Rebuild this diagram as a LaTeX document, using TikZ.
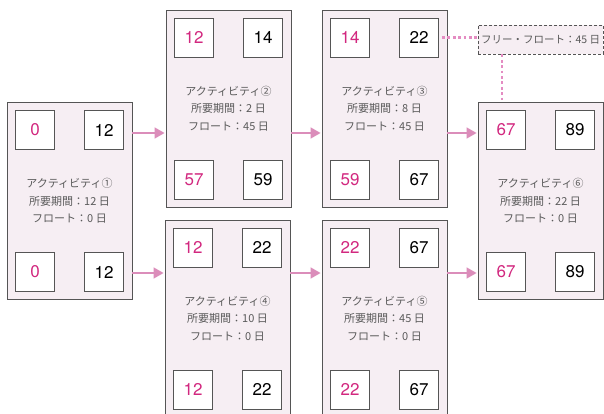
\documentclass[tikz,border=0pt]{standalone}
\usepackage{fontspec}
\newfontfamily\jp{Noto Sans CJK JP}
\newfontfamily\numf{TeX Gyre Heros}
\usetikzlibrary{arrows.meta,calc}
\definecolor{boxfill}{HTML}{F6EEF3}
\definecolor{boxdraw}{HTML}{555555}
\definecolor{mag}{HTML}{D2287F}
\definecolor{arrpink}{HTML}{DB8DBA}
\definecolor{dotpink}{HTML}{E48CC2}
\definecolor{txtgray}{HTML}{5A5A5A}
\tikzset{
  act/.style={draw=boxdraw, fill=boxfill, line width=0.9pt, minimum width=125pt, minimum height=197pt, inner sep=0pt},
  num/.style={draw=boxdraw, fill=white, line width=0.9pt, minimum size=39pt, inner sep=0pt, font=\numf\fontsize{17}{20}\selectfont},
  es/.style={num, text=mag},
  ef/.style={num, text=black},
  lbl/.style={align=center, text=txtgray, font=\jp\fontsize{11}{17.5}\selectfont},
  arr/.style={draw=arrpink, line width=1.6pt, -{Triangle[length=10pt,width=11pt]}, shorten >=1pt},
  dotln/.style={draw=dotpink, line width=2.8pt, dash pattern=on 2.8pt off 2.6pt},
  freebox/.style={draw=boxdraw, fill=boxfill, line width=0.9pt, dash pattern=on 3pt off 2pt, minimum width=125pt, minimum height=29pt, inner sep=0pt, text=txtgray, font=\jp\fontsize{10.5}{12}\selectfont}
}
\newcommand{\actbox}[8]{%
  \node[act] (#1) at (#2) {};
  \node[es] (#1tl) at ($(#1.center)+(-34.5pt,71pt)$) {#4};
  \node[ef] (#1tr) at ($(#1.center)+(34.5pt,71pt)$) {#5};
  \node[es] (#1bl) at ($(#1.center)+(-34.5pt,-71pt)$) {#6};
  \node[ef] (#1br) at ($(#1.center)+(34.5pt,-71pt)$) {#7};
  \node[lbl] (#1lbl) at (#1.center) {#3};
}
\begin{document}
\begin{tikzpicture}[x=1pt,y=-1pt]
\useasboundingbox (0,0) rectangle (604,414);
\clip (0,0) rectangle (604,414);
\fill[white] (0,0) rectangle (604,414);
\actbox{a1}{69.5,201}{アクティビティ①\\所要期間：12 日\\フロート：0 日}{0}{12}{0}{12}{}
\actbox{a2}{228.5,108.5}{アクティビティ②\\所要期間：2 日\\フロート：45 日}{12}{14}{57}{59}{}
\actbox{a3}{384.5,108.5}{アクティビティ③\\所要期間：8 日\\フロート：45 日}{14}{22}{59}{67}{}
\actbox{a4}{227.5,318.5}{アクティビティ④\\所要期間：10 日\\フロート：0 日}{12}{22}{12}{22}{}
\actbox{a5}{384.5,318.5}{アクティビティ⑤\\所要期間：45 日\\フロート：0 日}{22}{67}{22}{67}{}
\actbox{a6}{540.5,201}{アクティビティ⑥\\所要期間：22 日\\フロート：0 日}{67}{89}{67}{89}{}
\node[freebox] (fb) at (540.5,39.5) {フリー・フロート：45 日};
\coordinate (rowA) at (0,133);
\coordinate (rowB) at (0,273);
\draw[arr] (a1.east |- rowA) -- (a2.west |- rowA);
\draw[arr] (a2.east |- rowA) -- (a3.west |- rowA);
\draw[arr] (a3.east |- rowA) -- (a6.west |- rowA);
\draw[arr] (a1.east |- rowB) -- (a4.west |- rowB);
\draw[arr] (a4.east |- rowB) -- (a5.west |- rowB);
\draw[arr] (a5.east |- rowB) -- (a6.west |- rowB);
\draw[dotln] ($(a3tr.east)+(3pt,0)$) -- (fb.west |- a3tr.east);
\coordinate (vx) at (502,0);
\draw[dotln] (fb.south -| vx) -- (a6.north -| vx);
\end{tikzpicture}
\end{document}
